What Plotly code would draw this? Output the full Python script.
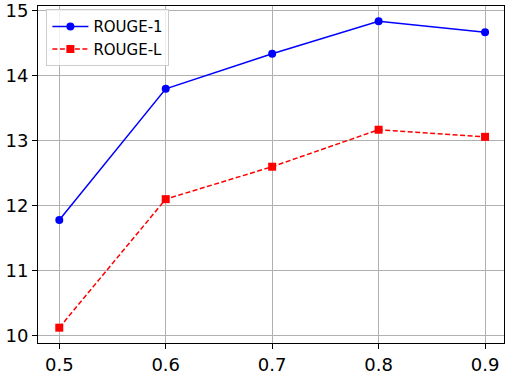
import plotly.graph_objects as go

x_vals = [0.5, 0.6, 0.7, 0.8, 0.9]
rouge1 = [11.78, 13.80, 14.34, 14.84, 14.67]
rougeL = [10.12, 12.10, 12.60, 13.17, 13.06]
x_ticks = [0.5, 0.6, 0.7, 0.8, 0.9]
x_tick_text = ["0.5", "0.6", "0.7", "0.8", "0.9"]
y_ticks = [10, 11, 12, 13, 14, 15]

fig = go.Figure()
fig.add_trace(go.Scatter(
    x=x_vals, y=rouge1, mode="lines+markers", name="ROUGE-1",
    line=dict(color="blue", width=1.5),
    marker=dict(symbol="circle", size=8, color="blue"),
))
fig.add_trace(go.Scatter(
    x=x_vals, y=rougeL, mode="lines+markers", name="ROUGE-L",
    line=dict(color="red", width=1.5, dash="5px,2.5px"),
    marker=dict(symbol="square", size=8, color="red"),
))

fig.update_layout(
    width=505, height=375,
    margin=dict(l=38, r=0, t=4, b=29),
    plot_bgcolor="white", paper_bgcolor="white",
    font=dict(family="DejaVu Sans", color="black"),
    showlegend=True,
    legend=dict(
        x=0.018, y=0.99, xanchor="left", yanchor="top",
        bgcolor="rgba(255,255,255,0.8)", bordercolor="#cccccc", borderwidth=1,
        font=dict(size=15, family="DejaVu Sans"),
        itemwidth=36,
    ),
)
fig.update_xaxes(
    range=[0.48, 0.9178], tickvals=x_ticks, ticktext=x_tick_text,
    showgrid=True, gridcolor="#b0b0b0", gridwidth=1,
    showline=True, linecolor="black", linewidth=1, mirror=True,
    ticks="outside", ticklen=5, tickcolor="black",
    tickfont=dict(size=18), zeroline=False, ticklabeloverflow="allow",
)
fig.update_yaxes(
    range=[9.884, 15.076], tickvals=y_ticks,
    showgrid=True, gridcolor="#b0b0b0", gridwidth=1,
    showline=True, linecolor="black", linewidth=1, mirror=True,
    ticks="outside", ticklen=5, tickcolor="black",
    tickfont=dict(size=18), zeroline=False, ticklabeloverflow="allow",
)

fig.write_html(
    "out.html",
    config={"displayModeBar": False},
    post_script="document.body.style.margin='0';document.body.style.overflow='hidden';",
)
